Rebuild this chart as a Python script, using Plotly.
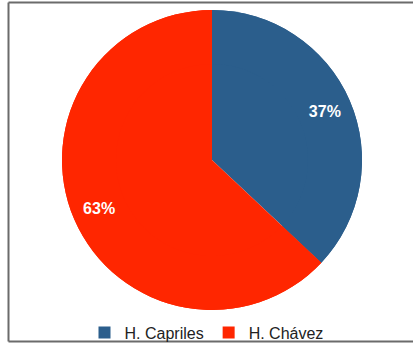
import plotly.graph_objects as go

candidates = ["H. Capriles", "H. Chávez"]
shares = [37, 63]
colors = ["#2B5E8C", "#FF2600"]

W, H = 413, 351
dom = dict(x=[62 / W, 362 / W], y=[1 - 310 / H, 1 - 10 / H])

# full pie (no text)
fig = go.Figure(go.Pie(
    labels=candidates,
    values=shares,
    marker=dict(colors=colors, line=dict(width=0)),
    sort=False,
    direction="clockwise",
    rotation=0,
    textinfo="none",
    domain=dom,
    hoverinfo="label+percent",
    showlegend=True,
))
# same pie as an outer ring, only used to place the percent labels further out
fig.add_trace(go.Pie(
    labels=candidates,
    values=shares,
    marker=dict(colors=colors, line=dict(width=0)),
    sort=False,
    direction="clockwise",
    rotation=0,
    hole=0.64,
    texttemplate="<b>%{percent:.0%}</b>",
    textposition="inside",
    insidetextorientation="horizontal",
    textfont=dict(color="white", size=16, family="Liberation Sans"),
    domain=dom,
    hoverinfo="label+percent",
    showlegend=False,
))

border = dict(color="#6b6b6b", width=2)
fig.add_shape(type="line", xref="paper", yref="paper", x0=8.5 / W, x1=1, y0=1 - 2.5 / H, y1=1 - 2.5 / H, line=border)
fig.add_shape(type="line", xref="paper", yref="paper", x0=8.5 / W, x1=8.5 / W, y0=1 - 2.5 / H, y1=1 - 341.5 / H, line=border)
fig.add_shape(type="line", xref="paper", yref="paper", x0=8.5 / W, x1=1, y0=1 - 341.5 / H, y1=1 - 341.5 / H, line=border)

fig.update_layout(
    width=W, height=H,
    margin=dict(l=0, r=0, t=0, b=0),
    paper_bgcolor="white",
    plot_bgcolor="white",
    font=dict(family="Liberation Sans", size=16, color="#222222"),
    showlegend=True,
    legend=dict(orientation="h", x=0.5, xanchor="center", y=1 - 332.5 / H, yanchor="middle",
                font=dict(size=16, family="Liberation Sans", color="#222222"),
                itemwidth=30, bgcolor="rgba(0,0,0,0)"),
)
fig.write_html("out.html", config={"displayModeBar": False},
               post_script="document.body.style.margin='0';document.body.style.overflow='hidden';")
